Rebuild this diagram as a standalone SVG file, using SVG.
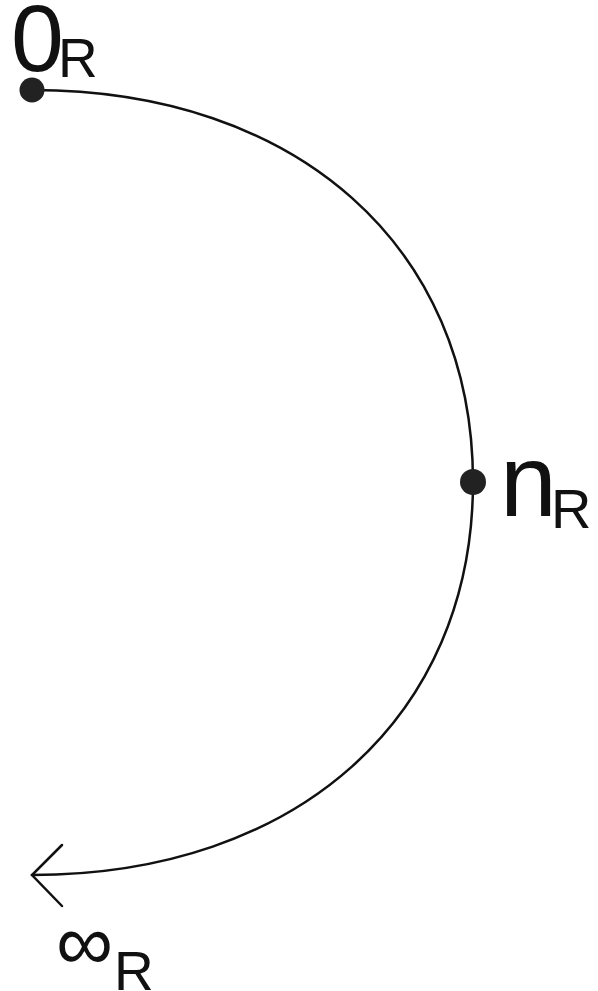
<svg xmlns="http://www.w3.org/2000/svg" width="598" height="991" viewBox="0 0 598 991">
<style>
.line{fill:none;stroke:#111;stroke-width:2.5;stroke-linecap:round}
.dot{fill:#222}
.t{font-family:"Liberation Sans",Arial,sans-serif;fill:#111}
</style>
<rect width="598" height="991" fill="#fff"/>
<g id="connectors">
<path class="line" d="M32,90 C297,90 473,247 473,482 C473,717 297,875 32,875"/>
<path class="line" d="M62,845 L32,875 L62,906"/>
</g>
<g id="node-0R">
<circle class="dot" cx="32" cy="90" r="12.5"/>
<text class="t" x="11" y="71" font-size="95">0</text>
<text class="t" x="58" y="77" font-size="55">R</text>
</g>
<g id="node-nR">
<circle class="dot" cx="473" cy="482" r="13"/>
<text class="t" x="500" y="516" font-size="102">n</text>
<text class="t" x="551" y="528" font-size="56">R</text>
</g>
<g id="node-infR">
<text class="t" x="56" y="970" font-size="80">∞</text>
<text class="t" x="114" y="990" font-size="55">R</text>
</g>
</svg>
